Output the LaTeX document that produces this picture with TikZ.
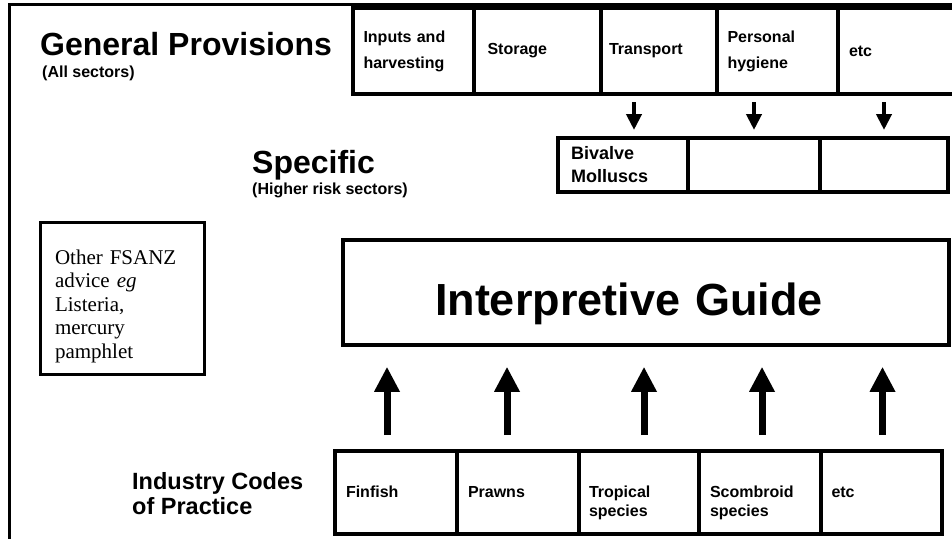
\documentclass[tikz,border=0pt]{standalone}
\usepackage{fontspec}
\setmainfont{Liberation Sans}
\newfontfamily\timesfont{Liberation Serif}
\usetikzlibrary{arrows.meta, positioning}

\begin{document}
\begin{tikzpicture}[
        x=1pt, y=-1pt,
        cell/.style={draw, line width=3.5pt, outer sep=0pt, inner xsep=0pt, minimum width=#1, text width=100pt, align=left, font=\fontsize{16}{26}\selectfont\bfseries},
        toprow/.style={cell=#1, minimum height=86pt},
        midrow/.style={cell=#1, minimum height=54pt, text width=104pt, font=\fontsize{18}{23}\selectfont\bfseries},
        botrow/.style={cell=#1, minimum height=83pt, text height=12pt, text depth=3pt, font=\fontsize{16}{19}\selectfont\bfseries},
        heading/.style={inner sep=0pt, anchor=base west, font=\fontsize{32}{32}\selectfont\bfseries},
        subheading/.style={inner sep=0pt, anchor=base west, font=\fontsize{16}{16}\selectfont\bfseries},
        uparrow/.style={-{Triangle[width=24pt, length=25pt]}, line width=7pt, shorten <=16pt, shorten >=20pt},
        downarrow/.style={-{Triangle[width=15pt, length=16pt]}, line width=4pt, shorten <=8pt, shorten >=8pt}
    ]

    \clip (0,0) rectangle (952,538);
    \draw[line width=3pt] (9,545) -- (9,4) -- (960,4);

    \node[heading] (gen) at (40,55) {General Provisions};
    \node[subheading] (all) at (42,77) {(All sectors)};
    \node[heading] (spec) at (252,173) {Specific};
    \node[subheading] (risk) at (252,194) {(Higher risk sectors)};

    \node[toprow=121pt, anchor=west] (inp) at (353,51) {Inputs and\\harvesting};
    \node[toprow=127pt, right=0pt of inp] (sto) {Storage};
    \node[toprow=116pt, right=0pt of sto] (trn) {Transport};
    \node[toprow=121pt, right=0pt of trn] (hyg) {Personal\\hygiene};
    \node[toprow=122pt, right=0pt of hyg] (getc) {etc};

    \node[midrow=130pt, anchor=west] (biv) at (558,165) {Bivalve\\Molluscs};
    \node[midrow=132pt, right=0pt of biv] (sp2) {};
    \node[midrow=128pt, right=0pt of sp2] (sp3) {};

    \node[draw, line width=3pt, minimum width=164pt, minimum height=152pt, text width=134pt, text height=16pt, text depth=84pt, inner xsep=0pt, align=left, font=\timesfont\fontsize{21}{23.5}\selectfont] (oth) at (122,298) {Other FSANZ\\advice \textit{eg}\\Listeria,\\mercury\\pamphlet};

    \node[draw, line width=3.5pt, minimum width=606pt, minimum height=105pt, text width=422pt, text height=45pt, text depth=0pt, inner xsep=0pt, align=left, font=\fontsize{45}{45}\selectfont\bfseries] (ig) at (646,292.5) {Interpretive Guide};

    \node[anchor=west, inner sep=0pt, align=left, font=\fontsize{23.5}{25}\selectfont\bfseries] (ind) at (132,494) {Industry Codes\\of Practice};

    \node[botrow=122pt, anchor=west] (fin) at (335,492.5) {Finfish};
    \node[botrow=122pt, right=0pt of fin] (prw) {Prawns};
    \node[botrow=120pt, right=0pt of prw] (trp) {Tropical\\species};
    \node[botrow=122pt, right=0pt of trp] (scb) {Scombroid\\species};
    \node[botrow=121pt, right=0pt of scb] (betc) {etc};

    \foreach \a/\b/\dx in {trn/biv/11, hyg/sp2/0, getc/sp3/0}
        \draw[downarrow, transform canvas={xshift=\dx pt}] (\b.north |- \a.south) -- (\b.north);

    \foreach \b/\dx in {fin/-9, prw/-11, trp/5, scb/2, betc/1}
        \draw[uparrow, transform canvas={xshift=\dx pt}] (\b.north) -- (\b.north |- ig.south);

\end{tikzpicture}
\end{document}
